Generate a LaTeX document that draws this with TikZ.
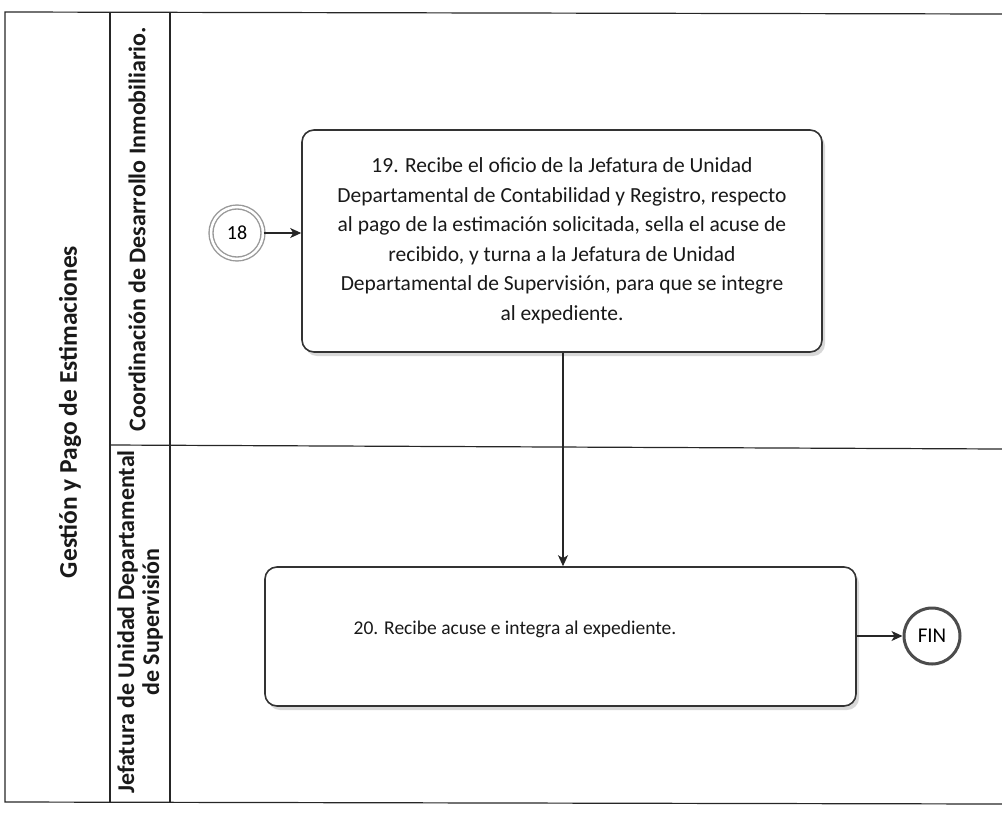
\documentclass[tikz,border=0pt]{standalone}
\usepackage{fontspec}
\setmainfont{Carlito}
\usetikzlibrary{arrows.meta,shadows}
\begin{document}
\begin{tikzpicture}[x=1pt,y=-1pt,
  lanerule/.style={draw=black!85, line width=1.2pt},
  lanelabel/.style={rotate=90, font=\bfseries\fontsize{24}{26}\selectfont, text=black!90, align=center, inner sep=0pt},
  task/.style={draw=black!80, line width=1.6pt, rounded corners=12pt, fill=white,
    drop shadow={shadow xshift=3pt, shadow yshift=-4pt, fill=black!30, opacity=0.5},
    align=center, inner sep=0pt, text=black!90},
  tasktext/.style={align=center, inner sep=0pt, text=black!90},
  flow/.style={draw=black!85, line width=1.2pt, -{Stealth[length=11pt,width=10pt,inset=3pt]}},
  startev/.style={circle, draw=black!40, line width=1.4pt, double=white, double distance=2.5pt, fill=white,
    minimum size=52pt, inner sep=0pt, font=\fontsize{20}{22}\selectfont},
  endev/.style={circle, draw=black!70, line width=3pt, fill=white, minimum size=56pt, inner sep=0pt,
    font=\fontsize{21}{23}\selectfont}]
\useasboundingbox (0,0) rectangle (1002,812);

% pool and lane frame
\draw[lanerule] (1002,14) -- (5,12) -- (5,802) -- (1002,804);
\draw[lanerule] (110,12) -- (110,803);
\draw[lanerule] (170,13) -- (170,803);
\draw[lanerule] (110,445) -- (1002,449);

% pool and lane titles
\node[lanelabel, font=\bfseries\fontsize{25.5}{27}\selectfont] (pool) at (70,412) {Gestión y Pago de Estimaciones};
\node[lanelabel] (laneA) at (137,229) {Coordinación de Desarrollo Inmobiliario.};
\node[lanelabel, font=\bfseries\fontsize{24}{25}\selectfont] (laneB) at (140,622) {Jefatura de Unidad Departamental\\de Supervisión};

% activities
\node[task, minimum width=520pt, minimum height=222pt, font=\fontsize{21.5}{29.5}\selectfont] (t19) at (562,241)
  {19. Recibe el oficio de la Jefatura de Unidad\\
   Departamental de Contabilidad y Registro, respecto\\
   al pago de la estimación solicitada, sella el acuse de\\
   recibido, y turna a la Jefatura de Unidad\\
   Departamental de Supervisión, para que se integre\\
   al expediente.};
\node[task, minimum width=591pt, minimum height=139pt] (t20) at (560.5,636.5) {};
\node[tasktext, font=\fontsize{19.5}{22}\selectfont] (t20text) at (515,629)
  {20. Recibe acuse e integra al expediente.};

% events
\node[startev] (s18) at (237,233) {18};
\node[endev] (fin) at (932,636) {FIN};

% sequence flows
\draw[flow] (s18) -- (t19.west |- s18);
\draw[flow] (t19.south -| 563,0) -- (t20.north -| 563,0);
\draw[flow] (t20.east |- fin) -- (fin);
\end{tikzpicture}
\end{document}
